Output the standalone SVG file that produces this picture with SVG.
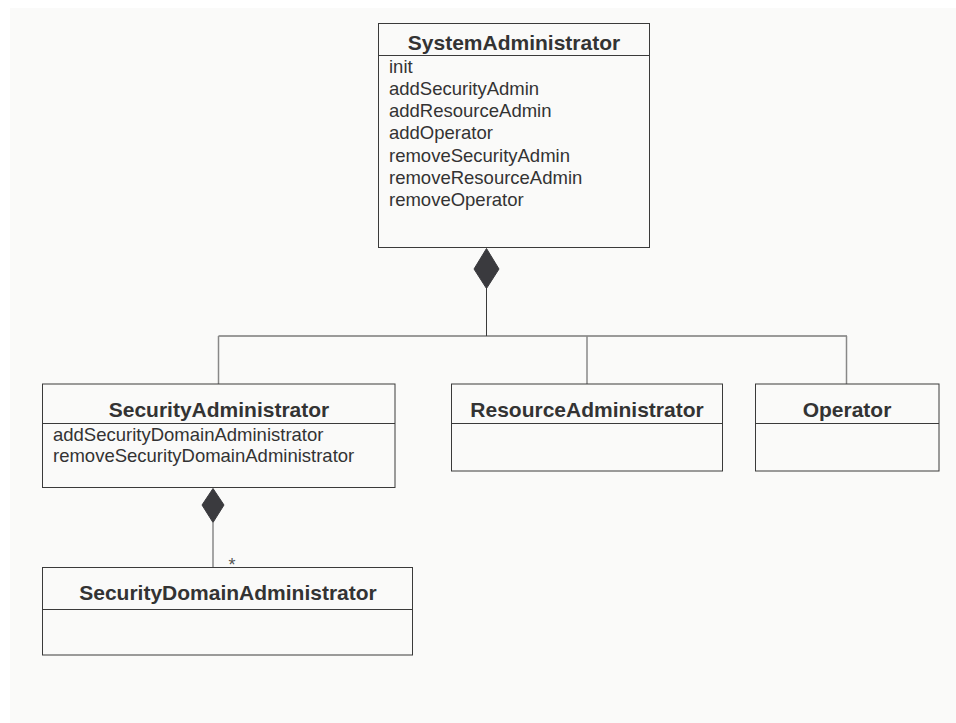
<svg xmlns="http://www.w3.org/2000/svg" width="956" height="723" viewBox="0 0 956 723">
<style>
.box{fill:#fafaf9;stroke:#3a3a3a;stroke-width:1}
.div{stroke:#3a3a3a;stroke-width:1}
.t{font-family:"Liberation Sans",Arial,sans-serif;font-weight:bold;font-size:21px;fill:#333;text-anchor:middle}
.m{font-family:"Liberation Sans",Arial,sans-serif;font-size:18.5px;fill:#333}
.ln{stroke:#3a3a3a;stroke-width:1;fill:none}
.lg{stroke:#888;stroke-width:1.5;fill:none}
.dia{fill:#3a3a3e;stroke:#3a3a3e;stroke-width:1}
</style>
<rect x="0" y="0" width="956" height="723" fill="#ffffff"/>
<rect x="10" y="8" width="946" height="715" fill="#fafaf9"/>
<g id="connectors">
<polygon class="dia" points="486.5,248.5 499,269 486.5,288.5 474,269"/>
<line class="ln" x1="486.5" y1="288" x2="486.5" y2="336"/>
<line class="ln" x1="218.5" y1="336" x2="847" y2="336"/>
<line class="lg" x1="218.5" y1="336" x2="218.5" y2="384"/>
<line class="lg" x1="587" y1="336" x2="587" y2="384"/>
<line class="lg" x1="846.5" y1="336" x2="846.5" y2="384"/>
<polygon class="dia" points="213,488.5 224,505 213,522.5 202,505"/>
<line class="lg" x1="213" y1="522" x2="213" y2="567"/>
<text x="232" y="571" font-family="Liberation Sans,Arial,sans-serif" font-size="18" fill="#555" text-anchor="middle">*</text>
</g>
<g id="SystemAdministrator">
<rect class="box" x="378.5" y="23.5" width="271" height="224"/>
<line class="div" x1="378.5" y1="55.5" x2="649.5" y2="55.5"/>
<text class="t" x="514" y="50">SystemAdministrator</text>
<text class="m" x="389" y="73">init</text>
<text class="m" x="389" y="95">addSecurityAdmin</text>
<text class="m" x="389" y="117">addResourceAdmin</text>
<text class="m" x="389" y="139">addOperator</text>
<text class="m" x="389" y="162">removeSecurityAdmin</text>
<text class="m" x="389" y="184">removeResourceAdmin</text>
<text class="m" x="389" y="206">removeOperator</text>
</g>
<g id="SecurityAdministrator">
<rect class="box" x="42.5" y="384" width="352.5" height="103.5"/>
<line class="div" x1="42.5" y1="423.5" x2="395" y2="423.5"/>
<text class="t" x="219" y="417">SecurityAdministrator</text>
<text class="m" x="53" y="441">addSecurityDomainAdministrator</text>
<text class="m" x="53" y="462">removeSecurityDomainAdministrator</text>
</g>
<g id="ResourceAdministrator">
<rect class="box" x="451.5" y="384" width="271" height="87"/>
<line class="div" x1="451.5" y1="423.5" x2="722.5" y2="423.5"/>
<text class="t" x="587" y="417">ResourceAdministrator</text>
</g>
<g id="Operator">
<rect class="box" x="755.5" y="384" width="183.5" height="87"/>
<line class="div" x1="755.5" y1="423.5" x2="939" y2="423.5"/>
<text class="t" x="847" y="417">Operator</text>
</g>
<g id="SecurityDomainAdministrator">
<rect class="box" x="42.5" y="567.5" width="370" height="87.5"/>
<line class="div" x1="42.5" y1="609.5" x2="412.5" y2="609.5"/>
<text class="t" x="228" y="600">SecurityDomainAdministrator</text>
</g>
</svg>
